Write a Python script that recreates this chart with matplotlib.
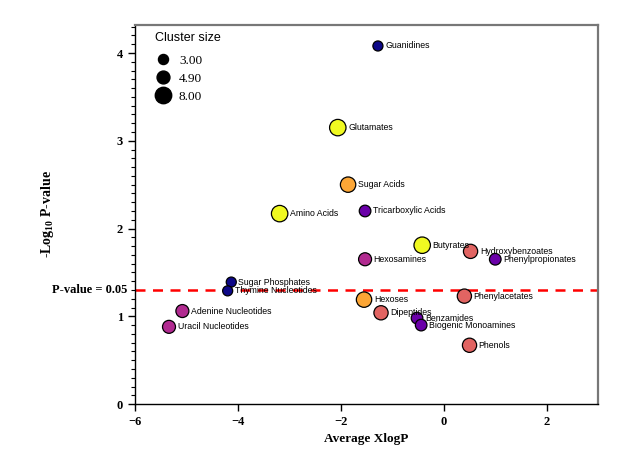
import numpy as np
import matplotlib
matplotlib.use("Agg")
import matplotlib.pyplot as plt
from matplotlib.lines import Line2D

names = ["Guanidines", "Glutamates", "Sugar Acids", "Amino Acids", "Tricarboxylic Acids",
         "Butyrates", "Hydroxybenzoates", "Phenylpropionates", "Hexosamines",
         "Sugar Phosphates", "Thymine Nucleotides", "Adenine Nucleotides", "Uracil Nucleotides",
         "Hexoses", "Phenylacetates", "Dipeptides", "Benzamides", "Biogenic Monoamines", "Phenols"]
xlogp = [-1.28, -2.06, -1.86, -3.19, -1.53,
         -0.42, 0.52, 1.00, -1.53,
         -4.13, -4.20, -5.08, -5.34,
         -1.55, 0.40, -1.22, -0.52, -0.44, 0.50]
neglogp = [4.08, 3.15, 2.50, 2.17, 2.20,
           1.81, 1.74, 1.65, 1.65,
           1.39, 1.29, 1.06, 0.88,
           1.19, 1.23, 1.04, 0.98, 0.90, 0.67]
cluster = [3, 8, 7, 8, 4,
           8, 6, 4, 5,
           3, 3, 5, 5,
           7, 6, 6, 4, 4, 6]
legend_sizes = [3.00, 4.90, 8.00]
threshold = -np.log10(0.05)

plt.rcParams["mathtext.fontset"] = "custom"
plt.rcParams["mathtext.rm"] = "Liberation Serif"
plt.rcParams["mathtext.bf"] = "Liberation Serif:bold"

K = 17.5  # points^2 per cluster unit

fig = plt.figure(figsize=(6.31, 4.53), dpi=100)
ax = fig.add_axes([0.214, 0.108, 0.734, 0.837])

cmap = plt.get_cmap("plasma")
norm = plt.Normalize(3, 8)
ax.scatter(xlogp, neglogp, s=[c * K for c in cluster], c=cluster, cmap=cmap, norm=norm,
           edgecolors="black", linewidths=0.9, zorder=3)

for n, x, y, c in zip(names, xlogp, neglogp, cluster):
    r = np.sqrt(c * K) / 2
    ax.annotate(n, (x, y), xytext=(r + 1.5, 0), textcoords="offset points",
                ha="left", va="center", fontsize=6.3, family="Liberation Sans", zorder=4)

ax.axhline(threshold, color="red", ls=(0, (4, 3)), lw=1.8, zorder=2)
ax.text(-6.15, threshold, "P-value = 0.05", ha="right", va="center", fontsize=9,
        family="Liberation Serif", fontweight="bold")

ax.set_xlim(-6, 3)
ax.set_ylim(0, 4.32)
ax.set_xticks([-6, -4, -2, 0, 2])
ax.set_yticks([0, 1, 2, 3, 4])
ax.set_yticks(np.arange(0, 4.31, 0.1), minor=True)
ax.tick_params(axis="both", direction="out", length=5, width=1, labelsize=9)
ax.tick_params(axis="y", which="minor", direction="out", length=3, width=0.8)
for lab in ax.get_xticklabels() + ax.get_yticklabels():
    lab.set_family("Liberation Serif")
    lab.set_fontweight("bold")

ax.set_xlabel("Average XlogP", family="Liberation Serif", fontweight="bold", fontsize=9.5, labelpad=4)
ax.set_ylabel("-Log$_{\\mathbf{10}}$ P-value", family="Liberation Serif", fontweight="bold",
              fontsize=10, labelpad=44)

for s in ["left", "bottom"]:
    ax.spines[s].set_color("black")
    ax.spines[s].set_linewidth(1.0)
for s in ["top", "right"]:
    ax.spines[s].set_color("#777777")
    ax.spines[s].set_linewidth(1.6)

ax.text(0.043, 0.966, "Cluster size", transform=ax.transAxes, ha="left", va="center",
        family="Liberation Sans", fontsize=9.0)
handles = [Line2D([], [], marker="o", ls="", color="black", markersize=np.sqrt(v * K))
           for v in legend_sizes]
leg = ax.legend(handles, [f"{v:.2f}" for v in legend_sizes],
                loc="upper left", bbox_to_anchor=(0.046, 0.921), frameon=False,
                prop={"family": "Liberation Serif", "size": 9.5},
                handlelength=1.0, handletextpad=0.71, labelspacing=0.43,
                borderaxespad=0, borderpad=0)

fig.savefig("out.png", dpi=100)
